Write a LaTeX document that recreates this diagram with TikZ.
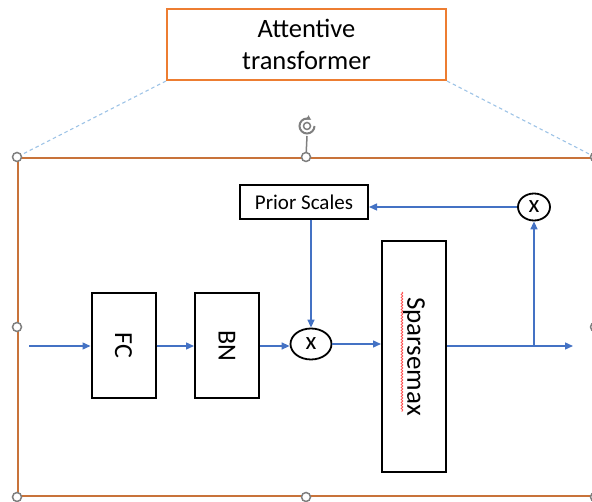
\documentclass[tikz,border=0pt]{standalone}
\usepackage{fontspec}
\setmainfont{Carlito}
\usepackage{tikz}
\usetikzlibrary{shapes.geometric,arrows.meta,positioning,calc,decorations.pathmorphing}
\definecolor{titleorange}{HTML}{ED7D31}
\definecolor{frameorange}{HTML}{C8733A}
\definecolor{linkblue}{HTML}{4472C4}
\definecolor{guideblue}{HTML}{9DC3E6}
\definecolor{handlegray}{HTML}{7F7F7F}
\tikzstyle{titlebox} = [rectangle, draw=titleorange, line width=2pt, minimum width=279pt, minimum height=71pt, align=center, font=\fontsize{26.5}{32}\selectfont]
\tikzstyle{framebox} = [rectangle, draw=frameorange, line width=2pt, minimum width=576pt, minimum height=338pt, inner sep=0pt]
\tikzstyle{block} = [rectangle, draw=black, line width=2pt, inner sep=0pt, text centered, fill=white]
\tikzstyle{mult} = [ellipse, draw=black, line width=1.8pt, inner sep=0pt, font=\fontsize{25}{25}\selectfont]
\tikzstyle{arrow} = [-{Triangle[length=8pt,width=7pt]}, draw=linkblue, fill=linkblue, line width=1.4pt]
\tikzstyle{guide} = [draw=guideblue, line width=1.1pt, dash pattern=on 3.5pt off 3pt]
\tikzstyle{handle} = [circle, draw=handlegray, fill=white, line width=1.5pt, minimum size=9pt, inner sep=0pt]

\begin{document}
\begin{tikzpicture}[x=1pt, y=-1pt]
	\useasboundingbox (0,0) rectangle (592,502);
	\node (att) [titlebox] at (306.5,44.5) {Attentive\\transformer};
	\node (frame) [framebox] at (306,327) {};
	\draw [guide] (att.south west) -- (frame.north west);
	\draw [guide] (att.south east) -- (frame.north east);

	% selection handles
	\coordinate (rot) at (307,126);
	\draw [handlegray, line width=1.5pt] (frame.north) -- ($(rot)+(0,10)$);
	\draw [handlegray, line width=2pt, -{Triangle[length=4pt,width=5pt]}] ($(rot)+(7.5,0)$) arc[start angle=0, end angle=300, radius=7.5];
	\draw [handlegray, line width=1.5pt] (rot) circle[radius=3.5];
	\foreach \a in {north west, north, north east, west, east, south west, south, south east}
		\node [handle] at (frame.\a) {};

	% blocks
	\node (fc) [block, minimum width=64pt, minimum height=105pt] at (123.5,345.5) {\fontsize{26}{26}\selectfont\rotatebox{-90}{FC}};
	\node (bn) [block, minimum width=64pt, minimum height=105pt] at (227,345.5) {\fontsize{26}{26}\selectfont\rotatebox{-90}{BN}};
	\node (mul1) [mult, minimum width=41pt, minimum height=31pt] at (311,344) {x};
	\node (sparse) [block, minimum width=64pt, minimum height=231pt] at (414,356.5) {\fontsize{27}{27}\selectfont\rotatebox{-90}{Sparsemax}};
	\node (prior) [block, minimum width=128pt, minimum height=34pt, font=\fontsize{21}{21}\selectfont] at (304,202) {Prior Scales};
	\node (mul2) [mult, minimum width=32pt, minimum height=27pt] at (534,207) {x};
	\draw [red!70, line width=0.8pt, decorate, decoration={snake, amplitude=0.8pt, segment length=3pt}] (402,292) -- (402,412);

	\coordinate (in) at (29,346);
	\coordinate (out) at (573,346);
	\coordinate (split) at (534,346);

	% connectors
	\draw [arrow] (in) -- (in -| fc.west);
	\draw [arrow] (in -| fc.east) -- (in -| bn.west);
	\draw [arrow] (in -| bn.east) -- (in -| mul1.west);
	\draw [arrow] (mul1.east) -- (mul1.east -| sparse.west);
	\draw [arrow] (sparse.east |- out) -- (out);
	\draw [arrow] (split) -- (mul2.south);
	\draw [arrow] (mul2.west) -- (mul2.west -| prior.east);
	\draw [arrow] (prior.south -| mul1.north) -- (mul1.north);
\end{tikzpicture}
\end{document}
